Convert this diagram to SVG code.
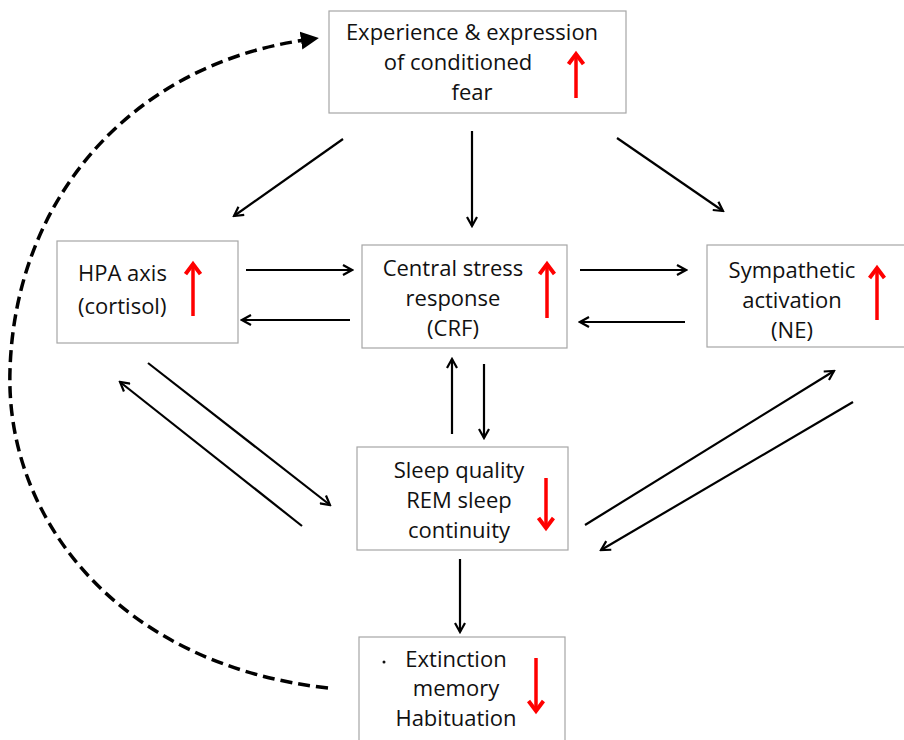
<svg xmlns="http://www.w3.org/2000/svg" width="904" height="740" viewBox="0 0 904 740">
<style>
.box{fill:#fff;stroke:#a6a6a6;stroke-width:1.2}
.t{font-family:"Open Sans","Liberation Sans",sans-serif;font-size:22px;fill:#111;text-anchor:middle}
.tl{text-anchor:start}
.c{stroke:#000;stroke-width:2.2;fill:none;marker-end:url(#a)}
.red{stroke:#f00;stroke-width:3.5;fill:none;marker-end:url(#r)}
.dash{stroke:#000;stroke-width:3.5;fill:none;stroke-dasharray:12 6;marker-end:url(#tri)}
</style>
<defs>
<marker id="a" viewBox="0 0 12 12" refX="10" refY="6" markerWidth="12" markerHeight="12" markerUnits="userSpaceOnUse" orient="auto">
<path d="M1,1 L10,6 L1,11" fill="none" stroke="#000" stroke-width="2.2"/>
</marker>
<marker id="r" viewBox="0 0 16 18" refX="12" refY="9" markerWidth="16" markerHeight="18" markerUnits="userSpaceOnUse" orient="auto">
<path d="M2,1.5 L12,9 L2,16.5" fill="none" stroke="#f00" stroke-width="4"/>
</marker>
<marker id="tri" viewBox="0 0 20 20" refX="4" refY="10" markerWidth="20" markerHeight="20" markerUnits="userSpaceOnUse" orient="auto">
<path d="M0,1 L18,10 L0,19 Z" fill="#000"/>
</marker>
</defs>
<rect width="904" height="740" fill="#fff"/>
<g id="fear">
<rect class="box" x="329" y="11" width="297" height="102"/>
<text class="t" x="472" y="40">Experience &amp; expression</text>
<text class="t" x="458" y="70">of conditioned</text>
<text class="t" x="472" y="100">fear</text>
<path class="red" d="M576,98 L576,54"/>
</g>
<g id="hpa">
<rect class="box" x="57" y="241" width="181" height="102"/>
<text class="t tl" x="78" y="281">HPA axis</text>
<text class="t tl" x="78" y="314">(cortisol)</text>
<path class="red" d="M193,316 L193,264"/>
</g>
<g id="central">
<rect class="box" x="362" y="245" width="205" height="103"/>
<text class="t" x="453" y="276">Central stress</text>
<text class="t" x="453" y="306">response</text>
<text class="t" x="453" y="336">(CRF)</text>
<path class="red" d="M547,318 L547,264"/>
</g>
<g id="sympathetic">
<rect class="box" x="707" y="245" width="200" height="102"/>
<text class="t" x="792" y="278">Sympathetic</text>
<text class="t" x="792" y="308">activation</text>
<text class="t" x="792" y="338">(NE)</text>
<path class="red" d="M877,320 L877,268"/>
</g>
<g id="sleep">
<rect class="box" x="357" y="447" width="211" height="103"/>
<text class="t" x="459" y="478">Sleep quality</text>
<text class="t" x="459" y="508">REM sleep</text>
<text class="t" x="459" y="538">continuity</text>
<path class="red" d="M546,478 L546,528"/>
</g>
<g id="extinction">
<rect class="box" x="359" y="637" width="206" height="110"/>
<circle cx="384" cy="662" r="1.5" fill="#111"/>
<text class="t" x="456" y="667">Extinction</text>
<text class="t" x="456" y="696">memory</text>
<text class="t" x="456" y="726">Habituation</text>
<path class="red" d="M536,658 L536,711"/>
</g>
<g id="connectors">
<path class="c" d="M343,139 L234,216"/>
<path class="c" d="M472,131 L472,226"/>
<path class="c" d="M617,138 L723,211"/>
<path class="c" d="M246,270 L352,270"/>
<path class="c" d="M350,320 L242,320"/>
<path class="c" d="M580,270 L686,270"/>
<path class="c" d="M685,322 L580,322"/>
<path class="c" d="M452,434 L452,359"/>
<path class="c" d="M484,364 L484,438"/>
<path class="c" d="M148,363 L330,505"/>
<path class="c" d="M302,526 L120,382"/>
<path class="c" d="M585,525 L834,371"/>
<path class="c" d="M853,402 L601,550"/>
<path class="c" d="M460,559 L460,632"/>
<path class="dash" d="M328,688 C120,665 5,520 10,370 C15,200 130,65 305,40"/>
</g>
</svg>
